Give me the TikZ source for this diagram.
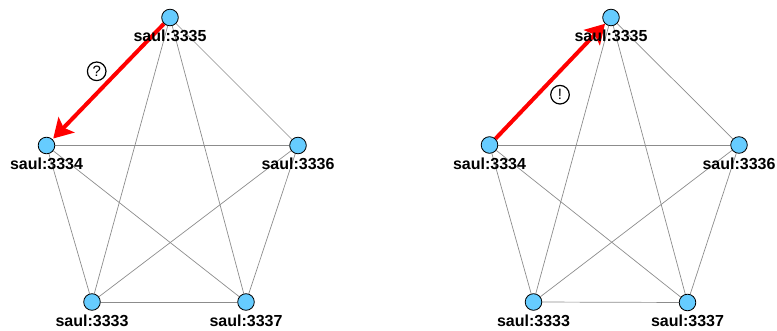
\documentclass[tikz,border=0pt]{standalone}
\usepackage{fontspec}
\setmainfont{Liberation Sans}
\usetikzlibrary{positioning}
\usetikzlibrary{backgrounds}
\usetikzlibrary{arrows.meta}

\definecolor{peerblue}{HTML}{66CCFF}
\definecolor{msgred}{HTML}{FF0000}

\tikzset{
    peer/.style={circle, draw=black, line width=0.8pt, fill=peerblue,
        minimum size=16.6pt, inner sep=0pt},
    peername/.style={font=\fontsize{16}{16}\selectfont\bfseries, inner sep=0pt},
    link/.style={draw=black!45, line width=0.7pt},
    msg/.style={draw=msgred, line width=4pt,
        -{Stealth[length=19pt, width=22pt, inset=4pt]}},
    tag/.style={circle, draw=black, line width=1.2pt, minimum size=18.6pt,
        inner sep=0pt, font=\fontsize{15}{15}\selectfont}
}

\begin{document}
\begin{tikzpicture}[x=1pt, y=-1pt]
    \useasboundingbox (0,0) rectangle (777,331);

    % left ring
    \node[peer] (a3335) at (170,17.5) {};
    \node[peer] (a3334) at (46.5,145.5) {};
    \node[peer] (a3336) at (298,145.5) {};
    \node[peer] (a3333) at (92,302) {};
    \node[peer] (a3337) at (246,302) {};

    % right ring
    \node[peer] (b3335) at (611,17.5) {};
    \node[peer] (b3334) at (489.5,145) {};
    \node[peer] (b3336) at (739,145) {};
    \node[peer] (b3333) at (533.5,302) {};
    \node[peer] (b3337) at (687.5,302.5) {};

    \foreach \g in {a,b} {
        \foreach \p in {3333,3334,3335,3336,3337} {
            \node[peername, below=4pt of \g\p] (\g\p t) {saul:\p};
        }
    }

    \begin{pgfonlayer}{background}
    \foreach \g in {a,b} {
        \path[link]
        (\g3335) edge (\g3336)
        (\g3335) edge (\g3333)
        (\g3335) edge (\g3337)
        (\g3334) edge (\g3336)
        (\g3334) edge (\g3333)
        (\g3334) edge (\g3337)
        (\g3336) edge (\g3333)
        (\g3336) edge (\g3337)
        (\g3333) edge (\g3337);
    }

    % the messages
    \draw[msg, shorten >=1pt] (a3335) -- (a3334);
    \draw[msg] (b3334) -- (b3335);
    \end{pgfonlayer}

    \node[tag] (ask) at (96.7,71.3) {?};
    \node[tag] (ack) at (560,94.7) {!};
\end{tikzpicture}
\end{document}
